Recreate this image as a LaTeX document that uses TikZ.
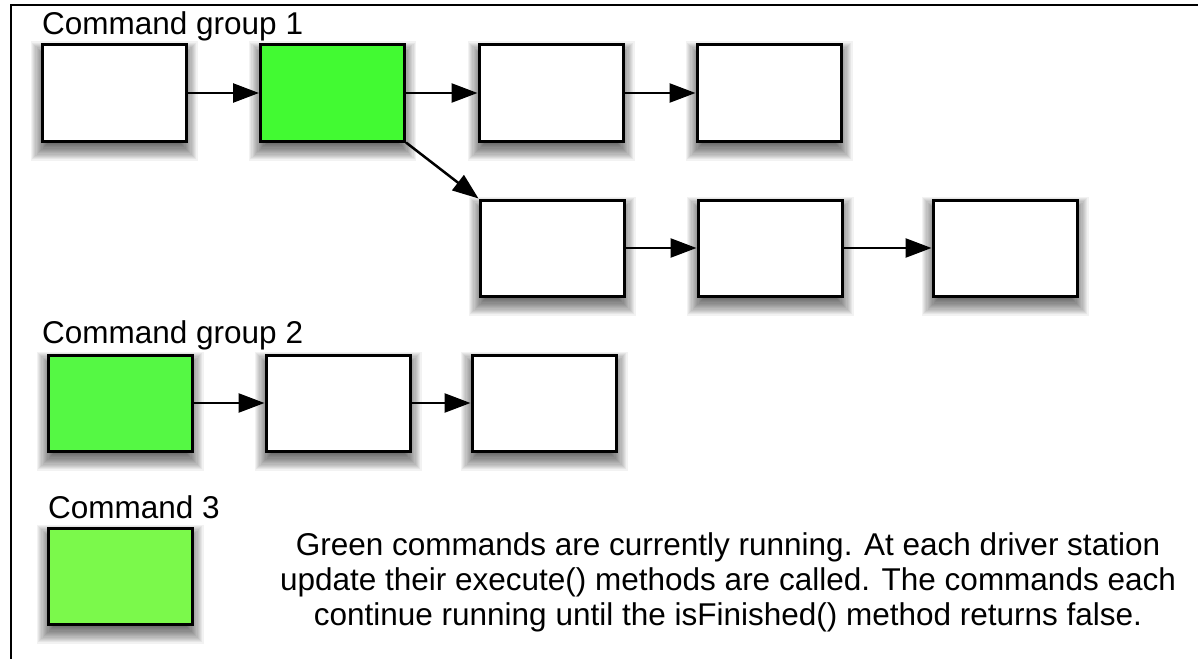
\documentclass[tikz,border=0pt]{standalone}
\usepackage{fontspec}
\setmainfont{Liberation Sans}
\usetikzlibrary{arrows.meta,backgrounds}
\definecolor{gone}{RGB}{66,250,50}
\definecolor{gtwo}{RGB}{85,248,68}
\definecolor{gthree}{RGB}{123,249,75}
\tikzset{
  cmdbox/.style={draw=black, line width=3pt, fill=white, minimum width=144pt, minimum height=96pt, inner sep=0pt},
  flow/.style={line width=2.5pt, -{Triangle[length=26pt,width=19pt]}},
  grouplabel/.style={anchor=base west, inner sep=0pt, font=\fontsize{31.5}{36}\selectfont},
  shadowlayer/.style={fill=black, opacity=0.05},
}
\newcommand\boxshadow[1]{%
  \foreach \k in {0,...,15}{%
    \pgfmathsetmacro\dd{10-1.2*\k}%
    \fill[shadowlayer] ([xshift=-\dd pt, yshift=\dd pt-8pt]#1.north west) rectangle ([xshift=\dd pt, yshift=-\dd pt-8pt]#1.south east);
  }%
}
\begin{document}
\begin{tikzpicture}[x=1pt,y=-1pt]
\useasboundingbox (0,0) rectangle (1198,658);

\node[grouplabel] (l1) at (42,35) {Command group 1};
\node[cmdbox] (a) at (114,93) {};
\node[cmdbox, fill=gone] (b) at (332.5,93) {};
\node[cmdbox] (c) at (551,93) {};
\node[cmdbox] (d) at (769,93) {};
\node[cmdbox] (e) at (552,248) {};
\node[cmdbox] (f) at (770,248) {};
\node[cmdbox] (g) at (1005,248) {};

\node[grouplabel] (l2) at (42,343) {Command group 2};
\node[cmdbox, fill=gtwo] (h) at (120,403) {};
\node[cmdbox] (i) at (338,403) {};
\node[cmdbox] (j) at (544,403) {};

\node[grouplabel] (l3) at (48,518) {Command 3};
\node[cmdbox, fill=gthree] (k) at (120,576) {};

\node[align=center, inner sep=0pt, font=\fontsize{31.5}{35}\selectfont] (note) at (728,582)
  {Green commands are currently running. At each driver station\\
   update their execute() methods are called. The commands each\\
   continue running until the isFinished() method returns false.};

\draw[flow] (a.east) -- (b.west);
\draw[flow] (b.east) -- (c.west);
\draw[flow] (c.east) -- (d.west);
\draw[flow] (b.south east) -- (e.north west);
\draw[flow] (e.east) -- (f.west);
\draw[flow] (f.east) -- (g.west);
\draw[flow] (h.east) -- (i.west);
\draw[flow] (i.east) -- (j.west);

\begin{scope}[on background layer]
  \fill[white] (0,0) rectangle (1198,658);
  \draw[line width=2pt] (11,700) -- (11,5) -- (1220,5);
  \foreach \n in {a,b,c,d,e,f,g,h,i,j,k}{\boxshadow{\n}}
\end{scope}
\end{tikzpicture}
\end{document}
